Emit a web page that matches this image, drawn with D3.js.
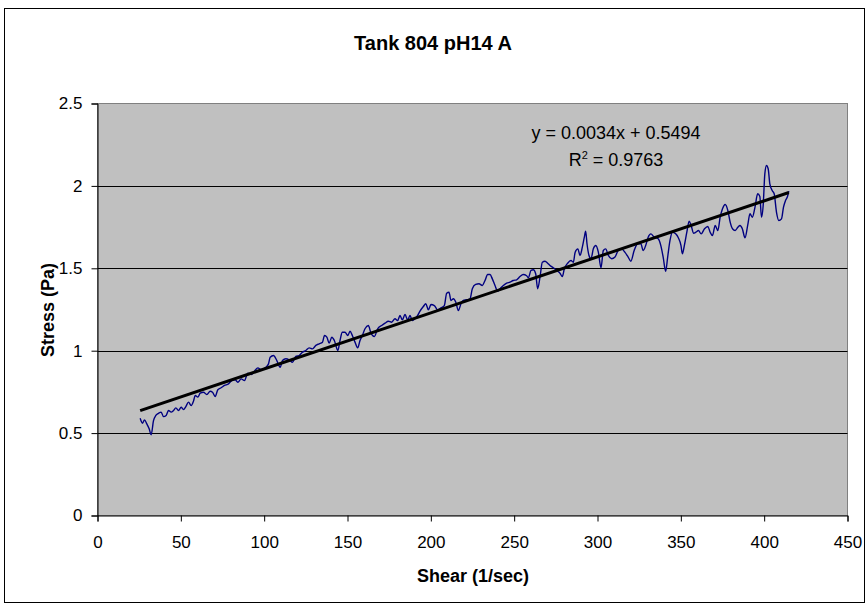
<!DOCTYPE html>
<html>
<head>
<meta charset="utf-8">
<script src="https://cdn.jsdelivr.net/npm/d3@7"></script>
<style>
  html, body { margin: 0; padding: 0; background: #fff; }
  svg { display: block; font-family: "Liberation Sans", Arial, sans-serif; }
</style>
</head>
<body>
<div id="chart"></div>
<script>
const shear = [
  25.6, 27, 28.2, 29.6, 31, 32.2, 33.6, 35, 36.6, 38.2, 39.6, 41.2, 42.6, 44.2, 45.6, 47, 48.6, 50.2, 51.6, 53,
  54.6, 56.2, 57.6, 58.6, 60.2, 61.6, 63.6, 65.6, 67.6, 69, 70.6, 72.2, 74.2, 76.2, 78.6, 80.6, 82.6, 84.2, 86.2, 88.2,
  90.2, 92.2, 94.2, 96.2, 98.2, 100.6, 102.6, 103.6, 105.6, 107.6, 109.6, 111, 113, 115, 117, 119, 121, 123, 125, 127,
  129, 131, 133, 135, 136.2, 137.6, 139, 140.6, 142.1, 144.2, 145.5, 146.9, 148.5, 150.2, 151.5, 152.9, 154.5, 156.1, 157.5, 158.9,
  160.5, 162.5, 164.1, 166.1, 168.1, 170.5, 172.5, 174.5, 176.5, 178.5, 180.1, 181.5, 182.9, 184.5, 186.1, 187.5, 188.9, 190.5, 192.1, 193.5,
  195.5, 197, 198.5, 200.1, 202.1, 204.1, 206.1, 208.1, 209.5, 210.9, 212.1, 213.5, 215, 216.5, 218.1, 219.5, 221.5, 223.5, 224.9, 226.9,
  228.9, 230.9, 232.5, 234.1, 235.5, 236.9, 238.5, 240.1, 241.5, 243.5, 245.5, 247.5, 249.4, 251.5, 253.5, 255.4, 257.5, 258.5, 260.1, 261.5,
  262.9, 264.1, 265.5, 266.9, 268.5, 270.1, 271.5, 273.5, 275.5, 277.5, 278.9, 280.1, 282.1, 284.1, 285.5, 286.6, 288.2, 289.5, 290.9, 292.1,
  292.9, 293.7, 294.9, 296.1, 297.5, 299, 300.5, 302.1, 303.5, 304.9, 306.5, 308.5, 310.5, 312.4, 314.5, 316.4, 318.4, 320, 322, 324.1,
  326, 327.4, 328.9, 330.4, 332, 334, 336.4, 338, 339.4, 340.9, 342.1, 343.5, 344.9, 346.9, 348.5, 350.1, 350.9, 352.1, 353.6, 355,
  356.2, 357.6, 359, 360.6, 362.2, 364.2, 366.2, 367.6, 369, 370.6, 372.2, 373.6, 375, 376.6, 378.2, 379.6, 381, 382.6, 384.2, 385.5,
  386.9, 388.5, 390.1, 391.5, 392.9, 394.5, 396.1, 397.4, 398.4, 399.4, 400.4, 401.4, 402.4, 403.4, 404.8, 406, 407.4, 408.8, 410.4, 411.6,
  412.8, 414, 414.8
];
const stress = [
  0.59, 0.56, 0.58, 0.556, 0.526, 0.49, 0.576, 0.607, 0.62, 0.627, 0.60, 0.607, 0.637, 0.627, 0.637, 0.653, 0.637, 0.657, 0.643, 0.661,
  0.688, 0.667, 0.694, 0.728, 0.718, 0.742, 0.748, 0.734, 0.754, 0.748, 0.722, 0.763, 0.775, 0.789, 0.799, 0.819, 0.823, 0.809, 0.829, 0.819,
  0.864, 0.856, 0.876, 0.896, 0.884, 0.896, 0.92, 0.96, 0.971, 0.94, 0.90, 0.94, 0.951, 0.945, 0.93, 0.965, 0.971, 0.991, 1.001, 1.017,
  1.011, 1.032, 1.042, 1.052, 1.092, 1.082, 1.046, 1.082, 1.062, 1.001, 1.062, 1.112, 1.112, 1.092, 1.118, 1.092, 1.052, 1.017, 1.062, 1.092,
  1.133, 1.153, 1.106, 1.086, 1.133, 1.153, 1.167, 1.179, 1.173, 1.194, 1.183, 1.214, 1.187, 1.22, 1.187, 1.214, 1.183, 1.194, 1.214, 1.24,
  1.268, 1.285, 1.248, 1.28, 1.274, 1.248, 1.26, 1.274, 1.349, 1.355, 1.305, 1.315, 1.294, 1.244, 1.285, 1.305, 1.309, 1.315, 1.376, 1.402,
  1.406, 1.396, 1.426, 1.462, 1.462, 1.436, 1.396, 1.361, 1.376, 1.396, 1.41, 1.416, 1.426, 1.43, 1.45, 1.462, 1.455, 1.442, 1.487, 1.491,
  1.467, 1.376, 1.446, 1.537, 1.543, 1.531, 1.517, 1.503, 1.487, 1.47, 1.45, 1.497, 1.531, 1.547, 1.537, 1.598, 1.618, 1.578, 1.628, 1.689,
  1.725, 1.649, 1.578, 1.558, 1.618, 1.638, 1.598, 1.503, 1.608, 1.618, 1.578, 1.558, 1.568, 1.608, 1.618, 1.598, 1.568, 1.543, 1.608, 1.649,
  1.649, 1.608, 1.638, 1.689, 1.709, 1.689, 1.679, 1.638, 1.568, 1.482, 1.568, 1.669, 1.719, 1.709, 1.685, 1.638, 1.588, 1.638, 1.719, 1.786,
  1.76, 1.713, 1.719, 1.729, 1.709, 1.74, 1.754, 1.719, 1.699, 1.76, 1.729, 1.81, 1.861, 1.887, 1.851, 1.78, 1.74, 1.729, 1.749, 1.76,
  1.74, 1.685, 1.76, 1.831, 1.81, 1.871, 1.952, 1.936, 1.81, 1.881, 2.073, 2.124, 2.104, 2.013, 1.972, 1.952, 1.84, 1.79, 1.80, 1.871,
  1.911, 1.936, 1.968
];

const xTicks = [0, 50, 100, 150, 200, 250, 300, 350, 400, 450];
const yTicks = [0, 0.5, 1, 1.5, 2, 2.5];

// linear trendline reported on the chart
const slope = 0.0034, intercept = 0.5494;
const eqLine = "y = 0.0034x + 0.5494";
const r2Value = "0.9763";

const W = 868, H = 606;
const plot = { left: 97.5, right: 847.5, top: 103.5, bottom: 515.5 };

const svg = d3.select("#chart").append("svg")
  .attr("width", W).attr("height", H);

// outer chart frame
svg.append("rect")
  .attr("x", 4.5).attr("y", 8.5)
  .attr("width", 860).attr("height", 594)
  .attr("fill", "#fff").attr("stroke", "#000").attr("stroke-width", 1);

const x = d3.scaleLinear().domain([0, 450]).range([plot.left, plot.right]);
const y = d3.scaleLinear().domain([0, 2.5]).range([plot.bottom, plot.top]);

// plot area
svg.append("rect")
  .attr("x", plot.left).attr("y", plot.top)
  .attr("width", plot.right - plot.left).attr("height", plot.bottom - plot.top)
  .attr("fill", "#c0c0c0").attr("stroke", "#808080").attr("stroke-width", 1);

// gridlines
svg.append("g").selectAll("line")
  .data(yTicks.filter(d => d > 0 && d < 2.5))
  .join("line")
  .attr("x1", plot.left).attr("x2", plot.right)
  .attr("y1", d => Math.round(y(d)) + 0.5).attr("y2", d => Math.round(y(d)) + 0.5)
  .attr("stroke", "#000").attr("stroke-width", 1);

// axes
const yAxis = svg.append("g")
  .attr("transform", `translate(${plot.left},0)`)
  .call(d3.axisLeft(y).tickValues(yTicks).tickSize(6).tickPadding(9).tickFormat(d3.format("")));
const xAxis = svg.append("g")
  .attr("transform", `translate(0,${plot.bottom})`)
  .call(d3.axisBottom(x).tickValues(xTicks).tickSize(6).tickPadding(14).tickFormat(d3.format("d")));

[yAxis, xAxis].forEach(g => {
  g.select(".domain").attr("stroke", "#000").attr("stroke-width", 1);
  g.selectAll(".tick line").attr("stroke", "#000");
  g.selectAll(".tick text")
    .attr("fill", "#000")
    .style("font-family", "'Liberation Sans', Arial, sans-serif")
    .style("font-size", "17px");
});

// data series
const pts = shear.map((s, i) => [s, stress[i]]);
svg.append("path")
  .datum(pts)
  .attr("fill", "none")
  .attr("stroke", "#000080")
  .attr("stroke-width", 1.4)
  .attr("d", d3.line().x(d => x(d[0])).y(d => y(d[1])).curve(d3.curveMonotoneX));

// trendline
const xMin = d3.min(shear), xMax = d3.max(shear);
svg.append("line")
  .attr("x1", x(xMin)).attr("y1", y(slope * xMin + intercept))
  .attr("x2", x(xMax)).attr("y2", y(slope * xMax + intercept))
  .attr("stroke", "#000").attr("stroke-width", 3);

// trendline label
const eq = svg.append("g").style("font-size", "18px").attr("fill", "#000").attr("text-anchor", "middle");
eq.append("text").attr("x", 616).attr("y", 139).text(eqLine);
const r2 = eq.append("text").attr("x", 616).attr("y", 166);
r2.append("tspan").text("R");
r2.append("tspan").attr("dy", -7).style("font-size", "11px").text("2");
r2.append("tspan").attr("dy", 7).text(" = " + r2Value);

// titles
svg.append("text")
  .attr("x", 433).attr("y", 50)
  .attr("text-anchor", "middle")
  .style("font-size", "20px").style("font-weight", "bold")
  .text("Tank 804 pH14 A");

svg.append("text")
  .attr("x", 473).attr("y", 582)
  .attr("text-anchor", "middle")
  .style("font-size", "18px").style("font-weight", "bold")
  .text("Shear (1/sec)");

svg.append("text")
  .attr("transform", "translate(54,310) rotate(-90)")
  .attr("text-anchor", "middle")
  .style("font-size", "18px").style("font-weight", "bold")
  .text("Stress (Pa)");
</script>
</body>
</html>
